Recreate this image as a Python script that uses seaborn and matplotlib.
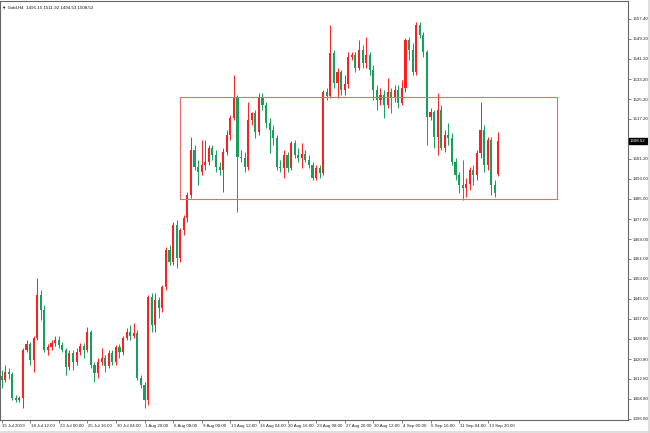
import numpy as np
import pandas as pd
import matplotlib
matplotlib.use("Agg")
import matplotlib.pyplot as plt
import matplotlib.transforms as mtransforms
from matplotlib.patches import Rectangle
from matplotlib.lines import Line2D
import seaborn as sns

# ---------------- data (Gold, H4) ----------------
open_ = [1414.1, 1412.5, 1415.7, 1414.9, 1405.2, 1404.4, 1405.2, 1424.5, 1426.9, 1420.5,
         1429.3, 1446.6, 1440.6, 1424.5, 1425.7, 1427.3, 1428.5, 1426.5, 1424.5, 1417.7,
         1423.3, 1419.7, 1423.7, 1426.1, 1424.5, 1431.7, 1418.5, 1415.3, 1419.7, 1421.3,
         1418.1, 1423.3, 1419.7, 1425.7, 1423.7, 1429.3, 1431.7, 1430.1, 1431.3, 1413.3,
         1410.5, 1404.4, 1445.8, 1434.5, 1444.6, 1441.4, 1449.8, 1464.7, 1459.8, 1474.7,
         1461.4, 1472.7, 1477.5, 1486.7, 1504.8, 1498.0, 1496.0, 1498.8, 1500.0, 1505.6,
         1502.8, 1498.0, 1496.8, 1504.0, 1510.8, 1517.7, 1526.1, 1502.0, 1501.6, 1498.0,
         1516.9, 1519.7, 1512.0, 1526.1, 1522.9, 1515.6, 1512.8, 1509.6, 1498.0, 1497.6,
         1502.8, 1497.6, 1507.6, 1502.8, 1501.6, 1503.2, 1500.8, 1498.8, 1493.6, 1497.6,
         1495.6, 1528.1, 1526.5, 1543.8, 1531.7, 1536.1, 1528.9, 1531.3, 1542.1, 1543.0,
         1537.7, 1545.0, 1539.7, 1543.0, 1536.9, 1528.9, 1524.9, 1526.9, 1522.9, 1528.1,
         1525.7, 1528.9, 1523.7, 1529.7, 1549.0, 1545.0, 1536.1, 1555.0, 1551.0, 1544.2,
         1518.1, 1520.1, 1510.0, 1520.9, 1505.6, 1510.8, 1509.6, 1500.0, 1494.8, 1490.8,
         1489.6, 1491.2, 1496.8, 1494.8, 1503.6, 1512.8, 1498.8, 1508.8, 1490.8, 1495.15]

high = [1416.5, 1418.5, 1417.3, 1415.7, 1406.4, 1406.0, 1425.3, 1428.5, 1427.7, 1430.1,
        1453.4, 1448.6, 1442.6, 1426.9, 1428.5, 1430.1, 1430.1, 1427.7, 1425.3, 1424.5,
        1424.5, 1425.3, 1427.3, 1427.3, 1433.7, 1432.5, 1419.7, 1421.3, 1425.3, 1422.5,
        1424.5, 1424.5, 1426.5, 1426.9, 1430.1, 1433.3, 1434.5, 1435.4, 1432.5, 1414.5,
        1411.7, 1446.6, 1447.4, 1447.4, 1445.8, 1450.6, 1465.9, 1466.7, 1475.9, 1476.7,
        1473.5, 1478.7, 1487.9, 1510.0, 1506.8, 1500.8, 1508.8, 1508.8, 1506.8, 1506.8,
        1504.8, 1500.0, 1505.6, 1512.8, 1518.9, 1534.9, 1526.9, 1504.8, 1504.0, 1524.1,
        1520.1, 1520.9, 1527.7, 1527.7, 1524.1, 1517.7, 1514.8, 1510.8, 1500.8, 1504.8,
        1504.0, 1508.4, 1508.8, 1505.6, 1507.6, 1504.8, 1502.8, 1500.0, 1498.8, 1498.8,
        1528.9, 1529.7, 1555.0, 1545.0, 1537.7, 1536.9, 1534.9, 1544.2, 1544.2, 1544.2,
        1549.0, 1547.0, 1550.2, 1544.2, 1538.9, 1530.9, 1529.7, 1528.9, 1533.7, 1529.7,
        1530.9, 1530.9, 1532.9, 1549.8, 1550.2, 1547.8, 1556.2, 1556.2, 1552.2, 1545.0,
        1521.7, 1520.9, 1527.7, 1522.9, 1512.8, 1515.6, 1511.6, 1501.6, 1496.0, 1500.8,
        1493.6, 1498.0, 1498.8, 1504.8, 1524.1, 1514.8, 1510.0, 1510.0, 1492.8, 1511.92]

low = [1409.3, 1411.7, 1412.9, 1404.4, 1403.6, 1403.6, 1401.2, 1423.7, 1418.5, 1415.7,
       1428.5, 1436.5, 1423.7, 1422.5, 1424.5, 1426.1, 1425.3, 1423.7, 1414.5, 1416.5,
       1416.5, 1418.5, 1422.5, 1421.3, 1423.7, 1417.3, 1411.7, 1413.3, 1418.5, 1415.7,
       1417.3, 1418.5, 1418.5, 1421.3, 1422.5, 1428.5, 1428.5, 1429.3, 1412.5, 1409.3,
       1401.2, 1402.4, 1431.7, 1431.7, 1437.4, 1439.8, 1448.6, 1458.6, 1458.6, 1457.4,
       1459.8, 1470.7, 1475.9, 1485.5, 1496.8, 1490.8, 1494.8, 1496.8, 1498.8, 1500.8,
       1496.0, 1494.8, 1487.9, 1502.8, 1508.8, 1516.9, 1479.9, 1500.0, 1496.0, 1496.8,
       1514.8, 1509.6, 1510.8, 1520.9, 1513.6, 1503.6, 1506.8, 1496.8, 1496.0, 1493.6,
       1496.0, 1496.8, 1501.6, 1500.0, 1497.6, 1500.0, 1497.6, 1492.8, 1492.8, 1493.6,
       1494.8, 1524.9, 1525.7, 1529.7, 1525.7, 1526.9, 1526.9, 1529.7, 1540.9, 1536.1,
       1536.9, 1537.7, 1537.7, 1534.9, 1524.9, 1520.9, 1522.9, 1517.7, 1521.7, 1519.7,
       1524.1, 1521.7, 1522.9, 1528.1, 1540.9, 1534.9, 1534.9, 1549.8, 1542.1, 1506.8,
       1516.9, 1505.6, 1502.8, 1504.8, 1504.0, 1506.8, 1498.8, 1492.8, 1487.5, 1484.7,
       1485.9, 1488.7, 1490.8, 1492.8, 1501.6, 1496.0, 1496.8, 1486.7, 1485.9, 1494.53]

close = [1412.5, 1415.7, 1414.9, 1405.2, 1404.4, 1405.2, 1424.5, 1426.9, 1420.5, 1429.3,
         1446.6, 1440.6, 1424.5, 1425.7, 1427.3, 1428.5, 1426.5, 1424.5, 1417.7, 1423.3,
         1419.7, 1423.7, 1426.1, 1424.5, 1431.7, 1418.5, 1415.3, 1419.7, 1421.3, 1418.1,
         1423.3, 1419.7, 1425.7, 1423.7, 1429.3, 1431.7, 1430.1, 1431.3, 1413.3, 1410.5,
         1404.4, 1445.8, 1434.5, 1444.6, 1441.4, 1449.8, 1464.7, 1459.8, 1474.7, 1461.4,
         1472.7, 1477.5, 1486.7, 1504.8, 1498.0, 1496.0, 1498.8, 1500.0, 1505.6, 1502.8,
         1498.0, 1496.8, 1504.0, 1510.8, 1517.7, 1526.1, 1502.0, 1501.6, 1498.0, 1516.9,
         1519.7, 1512.0, 1526.1, 1522.9, 1515.6, 1512.8, 1509.6, 1498.0, 1497.6, 1502.8,
         1497.6, 1507.6, 1502.8, 1501.6, 1503.2, 1500.8, 1498.8, 1493.6, 1497.6, 1495.6,
         1528.1, 1526.5, 1543.8, 1531.7, 1536.1, 1528.9, 1531.3, 1542.1, 1543.0, 1537.7,
         1545.0, 1539.7, 1543.0, 1536.9, 1528.9, 1524.9, 1526.9, 1522.9, 1528.1, 1525.7,
         1528.9, 1523.7, 1529.7, 1549.0, 1545.0, 1536.1, 1555.0, 1551.0, 1544.2, 1518.1,
         1520.1, 1510.0, 1520.9, 1505.6, 1510.8, 1509.6, 1500.0, 1494.8, 1490.8, 1489.6,
         1491.2, 1496.8, 1494.8, 1503.6, 1512.8, 1498.8, 1508.8, 1490.8, 1487.5, 1508.52]

x_tick_labels = ["15 Jul 2019", "18 Jul 12:00", "23 Jul 00:00", "25 Jul 16:00",
                 "30 Jul 04:00", "1 Aug 20:00", "6 Aug 08:00", "9 Aug 00:00",
                 "13 Aug 12:00", "16 Aug 04:00", "20 Aug 16:00", "23 Aug 08:00",
                 "27 Aug 20:00", "30 Aug 12:00", "4 Sep 00:00", "6 Sep 16:00",
                 "11 Sep 04:00", "13 Sep 20:00"]
bars_per_tick = 8

y_tick_labels = ["1396.80", "1404.80", "1412.80", "1420.80", "1428.80", "1437.00",
                 "1445.00", "1453.00", "1461.00", "1469.00", "1477.00", "1485.00",
                 "1493.00", "1501.20", "1509.20", "1517.20", "1525.20", "1533.20",
                 "1541.20", "1549.20", "1557.40"]
y_scale_low, y_scale_high = 1396.80, 1557.40

zone_first_bar, zone_last_bar = 49.9, 155.4
zone_low, zone_high = 1485.1, 1526.1

symbol = "Gold,H4"
last_price = 1508.52

# ---------------- styling ----------------
sns.set_style("white")
plt.rcParams["font.family"] = ["Liberation Sans", "DejaVu Sans"]

BULL = "#ff1f1f"
BEAR = "#16a05a"
FS = 3.2

fig = plt.figure(figsize=(6.5, 4.33), dpi=100)
W, H = 650, 433
ax = fig.add_axes([0 / W, (H - 420) / H, 628 / W, 419 / H])

idx = np.arange(len(close))
o = np.array(open_)
c = np.array(close)
df = pd.DataFrame({
    "bar": idx,
    "bottom": np.minimum(o, c),
    "height": np.maximum(np.abs(c - o), 0.3),
    "bull": c >= o,
    "high": high,
    "low": low,
})
df["color"] = np.where(df["bull"], BULL, BEAR)

# wicks
ax.vlines(df["bar"], df["low"], df["high"], colors=df["color"], linewidth=0.7, zorder=1)

# bodies
for is_bull, col in [(True, BULL), (False, BEAR)]:
    sub = df[df["bull"] == is_bull].sort_values("bar")
    sns.barplot(data=sub, x="bar", y="height", bottom=sub["bottom"].to_numpy(),
                native_scale=True, color=col, saturation=1, width=0.6,
                errorbar=None, linewidth=0, edgecolor="none", ax=ax, zorder=2)

# zone rectangle
ax.add_patch(Rectangle((zone_first_bar, zone_low), zone_last_bar - zone_first_bar,
                       zone_high - zone_low, fill=False, edgecolor="#f06868",
                       linewidth=0.8, zorder=3))

# axes limits
px_per_bar = 3.575
ax.set_xlim(-1.5 / px_per_bar, (628 - 1.5) / px_per_bar)
units_per_px = (y_scale_high - y_scale_low) / 400
ax.set_ylim(y_scale_low - 1 * units_per_px, y_scale_high + 18 * units_per_px)

ax.set_xlabel("")
ax.set_ylabel("")

# x ticks
ax.set_xticks(np.arange(len(x_tick_labels)) * bars_per_tick)
ax.set_xticklabels(x_tick_labels, ha="left")
# y ticks on the right
ax.yaxis.tick_right()
ax.set_yticks(np.linspace(y_scale_low, y_scale_high, len(y_tick_labels)))
ax.set_yticklabels(y_tick_labels)
ax.tick_params(axis="both", which="major", direction="out", length=2.2, width=0.5,
               color="#555555", labelsize=FS, labelcolor="#222222", pad=1)
ax.tick_params(axis="x", bottom=True)
ax.tick_params(axis="y", right=True, left=False)
offset = mtransforms.ScaledTranslation(0.8 / 100, 0, fig.dpi_scale_trans)
for lab in ax.get_xticklabels():
    lab.set_transform(lab.get_transform() + offset)
# the tick label under the last-price marker is hidden, as in the terminal
for lab in ax.get_yticklabels():
    if abs(float(lab.get_text()) - last_price) < 4:
        lab.set_visible(False)

for side in ["left", "top", "right", "bottom"]:
    ax.spines[side].set_visible(True)
    ax.spines[side].set_color("#666666")
    ax.spines[side].set_linewidth(0.8)

# last price marker
trans = mtransforms.blended_transform_factory(ax.transAxes, ax.transData)
ax.text(1.003, last_price, f"{last_price:.2f}", transform=trans, ha="left", va="center",
        fontsize=FS, color="white", zorder=10, clip_on=False,
        bbox=dict(boxstyle="square,pad=0.25", facecolor="black", edgecolor="black"))

# title line
fig.text(2 / W, 1 - 7.5 / H,
         f"\u25bc {symbol}  {open_[-1]:.2f} {high[-1]:.2f} {low[-1]:.2f} {close[-1]:.2f}",
         fontsize=FS, color="#111111", ha="left", va="center")

# window border lines
fig.add_artist(Line2D([0, 1], [1.5 / H, 1.5 / H], color="#d8d8d8", linewidth=1.2,
                      transform=fig.transFigure))
fig.add_artist(Line2D([1 - 1.5 / W, 1 - 1.5 / W], [0, 1], color="#d8d8d8", linewidth=1.2,
                      transform=fig.transFigure))

fig.savefig("out.png", dpi=100)
